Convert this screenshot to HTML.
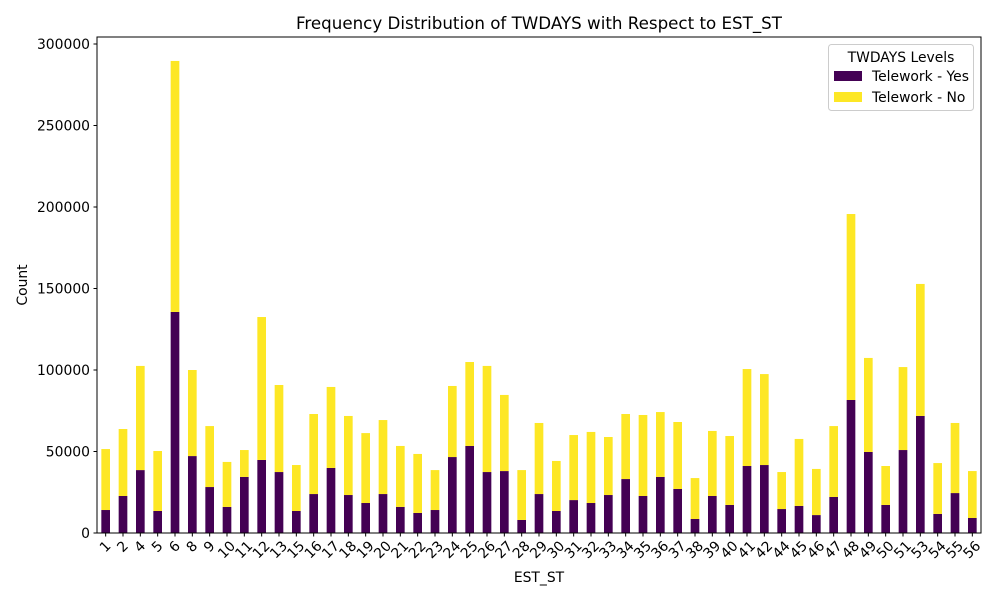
<!DOCTYPE html>
<html><head><meta charset="utf-8"><style>
body{margin:0;background:#fff;}
svg{font-family:"DejaVu Sans","Liberation Sans",sans-serif;}
</style></head><body>
<svg id="chart" width="1000" height="600">
<rect x="0" y="0" width="1000" height="600" fill="#fff"/>
<text x="539" y="29" font-size="16.7" text-anchor="middle">Frequency Distribution of TWDAYS with Respect to EST_ST</text>
<text x="539" y="582" font-size="13.9" text-anchor="middle">EST_ST</text>
<text transform="translate(27,285) rotate(-90)" font-size="13.9" text-anchor="middle">Count</text>
<g id="bars"></g>
<g id="xticks"></g>
<g id="yticks"></g>
<rect x="97" y="37" width="884" height="496" fill="none" stroke="#000" stroke-width="1"/>
<g>
<rect x="828.5" y="44.5" width="145" height="66" rx="3" fill="#fff" fill-opacity="0.8" stroke="#ccc"/>
<text x="901" y="62" font-size="13.9" text-anchor="middle">TWDAYS Levels</text>
<rect x="834" y="71" width="28" height="10" fill="#440154"/>
<text x="872" y="81" font-size="13.9">Telework - Yes</text>
<rect x="834" y="92" width="28" height="10" fill="#fde725"/>
<text x="872" y="102" font-size="13.9">Telework - No</text>
</g>
</svg>
<script>
const categories=["1","2","4","5","6","8","9","10","11","12","13","15","16","17","18","19","20","21","22","23","24","25","26","27","28","29","30","31","32","33","34","35","36","37","38","39","40","41","42","44","45","46","47","48","49","50","51","53","54","55","56"];
const yesValues=[14100,22700,38600,13500,135600,47200,28200,16000,34400,44800,37400,13500,23900,39900,23300,18400,23900,16000,12300,14100,46600,53400,37400,38000,8000,23900,13500,20200,18400,23300,33100,22700,34400,27000,8600,22700,17200,41100,41700,14700,16600,11000,22100,81600,49700,17200,50900,71800,11700,24500,9200];
const totalValues=[51500,63800,102500,50300,289600,100000,65600,43600,50900,132500,90800,41700,73000,89600,71800,61300,69300,53400,48500,38600,90200,104900,102500,84700,38600,67500,44200,60100,62000,58900,73000,72400,74200,68100,33700,62600,59500,100600,97500,37400,57700,39300,65600,195700,107400,41100,101800,152800,42900,67500,38000];
const noValues=totalValues.map((t,i)=>t-yesValues[i]);
const yTicks=[0,50000,100000,150000,200000,250000,300000];
const NS="http://www.w3.org/2000/svg";
const x0=97,x1=981,y0=533,yTop=37;
const yMax=304300;
const band=(x1-x0)/categories.length;
const xScale=i=>x0+band*(i+0.5);
const yScale=v=>y0-(v/yMax)*(y0-yTop);
function mk(tag,attrs,parent){const e=document.createElementNS(NS,tag);for(const k in attrs)e.setAttribute(k,attrs[k]);parent.appendChild(e);return e;}
const gb=document.getElementById('bars'),gx=document.getElementById('xticks'),gy=document.getElementById('yticks');
const bw=band*0.5;
categories.forEach((c,i)=>{
  const cx=xScale(i);
  const y1=yScale(yesValues[i]);
  const r1=mk('rect',{x:cx-bw/2,y:y1,width:bw,height:y0-y1,fill:'#440154'},gb);
  
  
  const y2=yScale(yesValues[i]+noValues[i]);
  const r2=mk('rect',{x:cx-bw/2,y:y2,width:bw,height:y1-y2,fill:'#fde725'},gb);
  
  
  mk('line',{x1:cx,x2:cx,y1:y0,y2:y0+3.5,stroke:'#000'},gx);
  const w=c.length*8.85,h=11;
  const cy=y0+7+(w+h)*0.354;
  const t=mk('text',{x:cx,y:cy,'font-size':13.9,'text-anchor':'middle','dominant-baseline':'central',transform:`rotate(-45 ${cx} ${cy})`},gx);
  t.textContent=c;
  
  
});
yTicks.forEach(v=>{
  const y=yScale(v);
  mk('line',{x1:x0-3.5,x2:x0,y1:y,y2:y,stroke:'#000'},gy);
  const t=mk('text',{x:x0-7,y:y+5,'font-size':13.9,'text-anchor':'end'},gy);
  t.textContent=v;
  
  
});
</script>
</body></html>
